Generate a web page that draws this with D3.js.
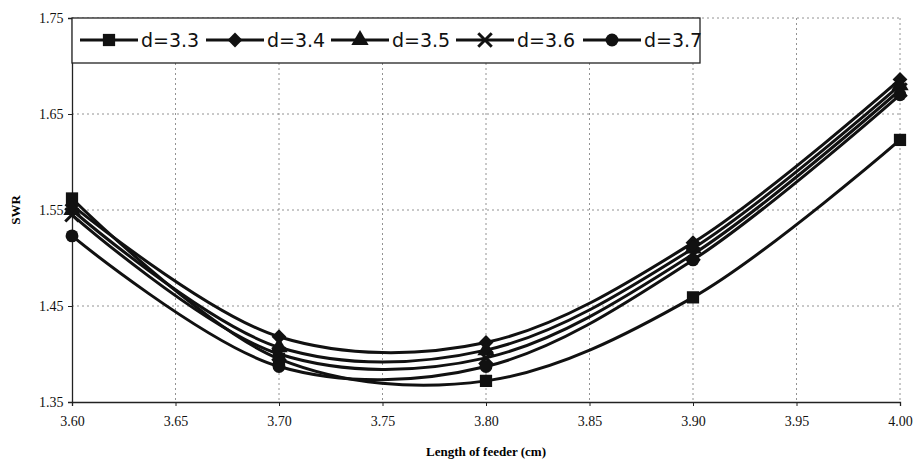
<!DOCTYPE html>
<html>
<head>
<meta charset="utf-8">
<script src="https://cdn.jsdelivr.net/npm/d3@7"></script>
<style>
  body { margin: 0; background: #fff; }
</style>
</head>
<body>
<div id="chart"></div>
<script>
// Data
const feederLengths = [3.60, 3.70, 3.80, 3.90, 4.00];
const seriesNames = ['d=3.3', 'd=3.4', 'd=3.5', 'd=3.6', 'd=3.7'];
const swrD33 = [1.562, 1.395, 1.372, 1.459, 1.623];
const swrD34 = [1.555, 1.418, 1.412, 1.516, 1.686];
const swrD35 = [1.550, 1.407, 1.404, 1.510, 1.680];
const swrD36 = [1.545, 1.400, 1.396, 1.504, 1.675];
const swrD37 = [1.523, 1.387, 1.387, 1.498, 1.670];
const markerTypes = ['square', 'diamond', 'triangle', 'cross', 'circle'];
const xTicks = [3.60, 3.65, 3.70, 3.75, 3.80, 3.85, 3.90, 3.95, 4.00];
const yTicks = [1.35, 1.45, 1.55, 1.65, 1.75];

const series = [swrD33, swrD34, swrD35, swrD36, swrD37].map((vals, i) => ({
  name: seriesNames[i],
  marker: markerTypes[i],
  points: vals.map((v, j) => [feederLengths[j], v]),
}));

const width = 922, height = 465;
const margin = {left: 72, right: 22, top: 18, bottom: 63};

const svg = d3.select('#chart').append('svg')
  .attr('width', width)
  .attr('height', height);

const x = d3.scaleLinear().domain([3.60, 4.00]).range([margin.left, width - margin.right]);
const y = d3.scaleLinear().domain([1.35, 1.75]).range([height - margin.bottom, margin.top]);

// Grid
svg.append('g').selectAll('line')
  .data(xTicks.slice(1))
  .join('line')
    .attr('x1', d => x(d)).attr('x2', d => x(d))
    .attr('y1', y(1.75)).attr('y2', y(1.35))
    .attr('stroke', '#777').attr('stroke-width', 0.8)
    .attr('stroke-dasharray', '2,3');
svg.append('g').selectAll('line')
  .data(yTicks.slice(1))
  .join('line')
    .attr('x1', x(3.60)).attr('x2', x(4.00))
    .attr('y1', d => y(d)).attr('y2', d => y(d))
    .attr('stroke', '#777').attr('stroke-width', 0.8)
    .attr('stroke-dasharray', '2,3');

// Axes
const xAxis = d3.axisBottom(x).tickValues(xTicks).tickFormat(d3.format('.2f')).tickSize(4);
const yAxis = d3.axisLeft(y).tickValues(yTicks).tickFormat(d3.format('.2f')).tickSize(4);

const gx = svg.append('g')
  .attr('transform', `translate(0,${y(1.35)})`)
  .call(xAxis);
const gy = svg.append('g')
  .attr('transform', `translate(${x(3.60)},0)`)
  .call(yAxis);

[gx, gy].forEach(g => {
  g.select('.domain').attr('stroke', '#222').attr('stroke-width', 1.3);
  g.selectAll('.tick line').attr('stroke', '#222');
  g.selectAll('.tick text')
    .attr('font-family', '"Liberation Serif", "DejaVu Serif", serif')
    .attr('font-size', 14)
    .attr('fill', '#111');
});
gx.selectAll('.tick text').attr('dy', '1.2em');
gy.selectAll('.tick text').attr('dx', '-0.1em');

// Axis titles
svg.append('text')
  .attr('x', (x(3.60) + x(4.00)) / 2)
  .attr('y', 456)
  .attr('text-anchor', 'middle')
  .attr('font-family', '"Liberation Serif", serif')
  .attr('font-weight', 'bold')
  .attr('font-size', 13)
  .text('Length of feeder (cm)');

svg.append('text')
  .attr('transform', `translate(20,${y(1.55)}) rotate(-90)`)
  .attr('text-anchor', 'middle')
  .attr('font-family', '"Liberation Serif", serif')
  .attr('font-weight', 'bold')
  .attr('font-size', 13)
  .text('SWR');

// Lines
const line = d3.line()
  .x(d => x(d[0]))
  .y(d => y(d[1]))
  .curve(d3.curveCatmullRom.alpha(0.5));

svg.append('g').selectAll('path')
  .data(series)
  .join('path')
    .attr('d', d => line(d.points))
    .attr('fill', 'none')
    .attr('stroke', '#111')
    .attr('stroke-width', 3);

// Markers
const symbolFor = {
  square: d3.symbol().type(d3.symbolSquare).size(150),
  diamond: d3.symbol().type(d3.symbolSquare).size(110),
  triangle: d3.symbol().type(d3.symbolTriangle).size(130),
  cross: d3.symbol().type(d3.symbolTimes).size(120),
  circle: d3.symbol().type(d3.symbolCircle).size(130),
};

const drawMarker = (g, type) => {
  g.append('path')
    .attr('d', symbolFor[type]())
    .attr('transform', type === 'diamond' ? 'rotate(45)' : null)
    .attr('fill', type === 'cross' ? 'none' : '#111')
    .attr('stroke', '#111')
    .attr('stroke-width', type === 'cross' ? 3 : 0);
};

series.forEach(s => {
  s.points.forEach(p => {
    const g = svg.append('g').attr('transform', `translate(${x(p[0])},${y(p[1])})`);
    drawMarker(g, s.marker);
  });
});

// Legend
const legend = svg.append('g');
legend.append('rect')
  .attr('x', x(3.60)).attr('y', y(1.75))
  .attr('width', 628).attr('height', 45)
  .attr('fill', '#fff')
  .attr('stroke', '#222').attr('stroke-width', 1.3);

const legendX = [80, 206, 331, 456, 583];
series.forEach((s, i) => {
  const g = legend.append('g').attr('transform', `translate(${legendX[i]},${y(1.75) + 22})`);
  g.append('line').attr('x1', 0).attr('x2', 58).attr('stroke', '#111').attr('stroke-width', 3);
  const m = g.append('g').attr('transform', 'translate(29,0)');
  drawMarker(m, s.marker);
  g.append('text')
    .attr('x', 61).attr('y', 7)
    .attr('font-family', '"DejaVu Sans", Verdana, sans-serif')
    .attr('font-size', 19)
    .attr('fill', '#111')
    .text(s.name);
});
</script>
</body>
</html>
